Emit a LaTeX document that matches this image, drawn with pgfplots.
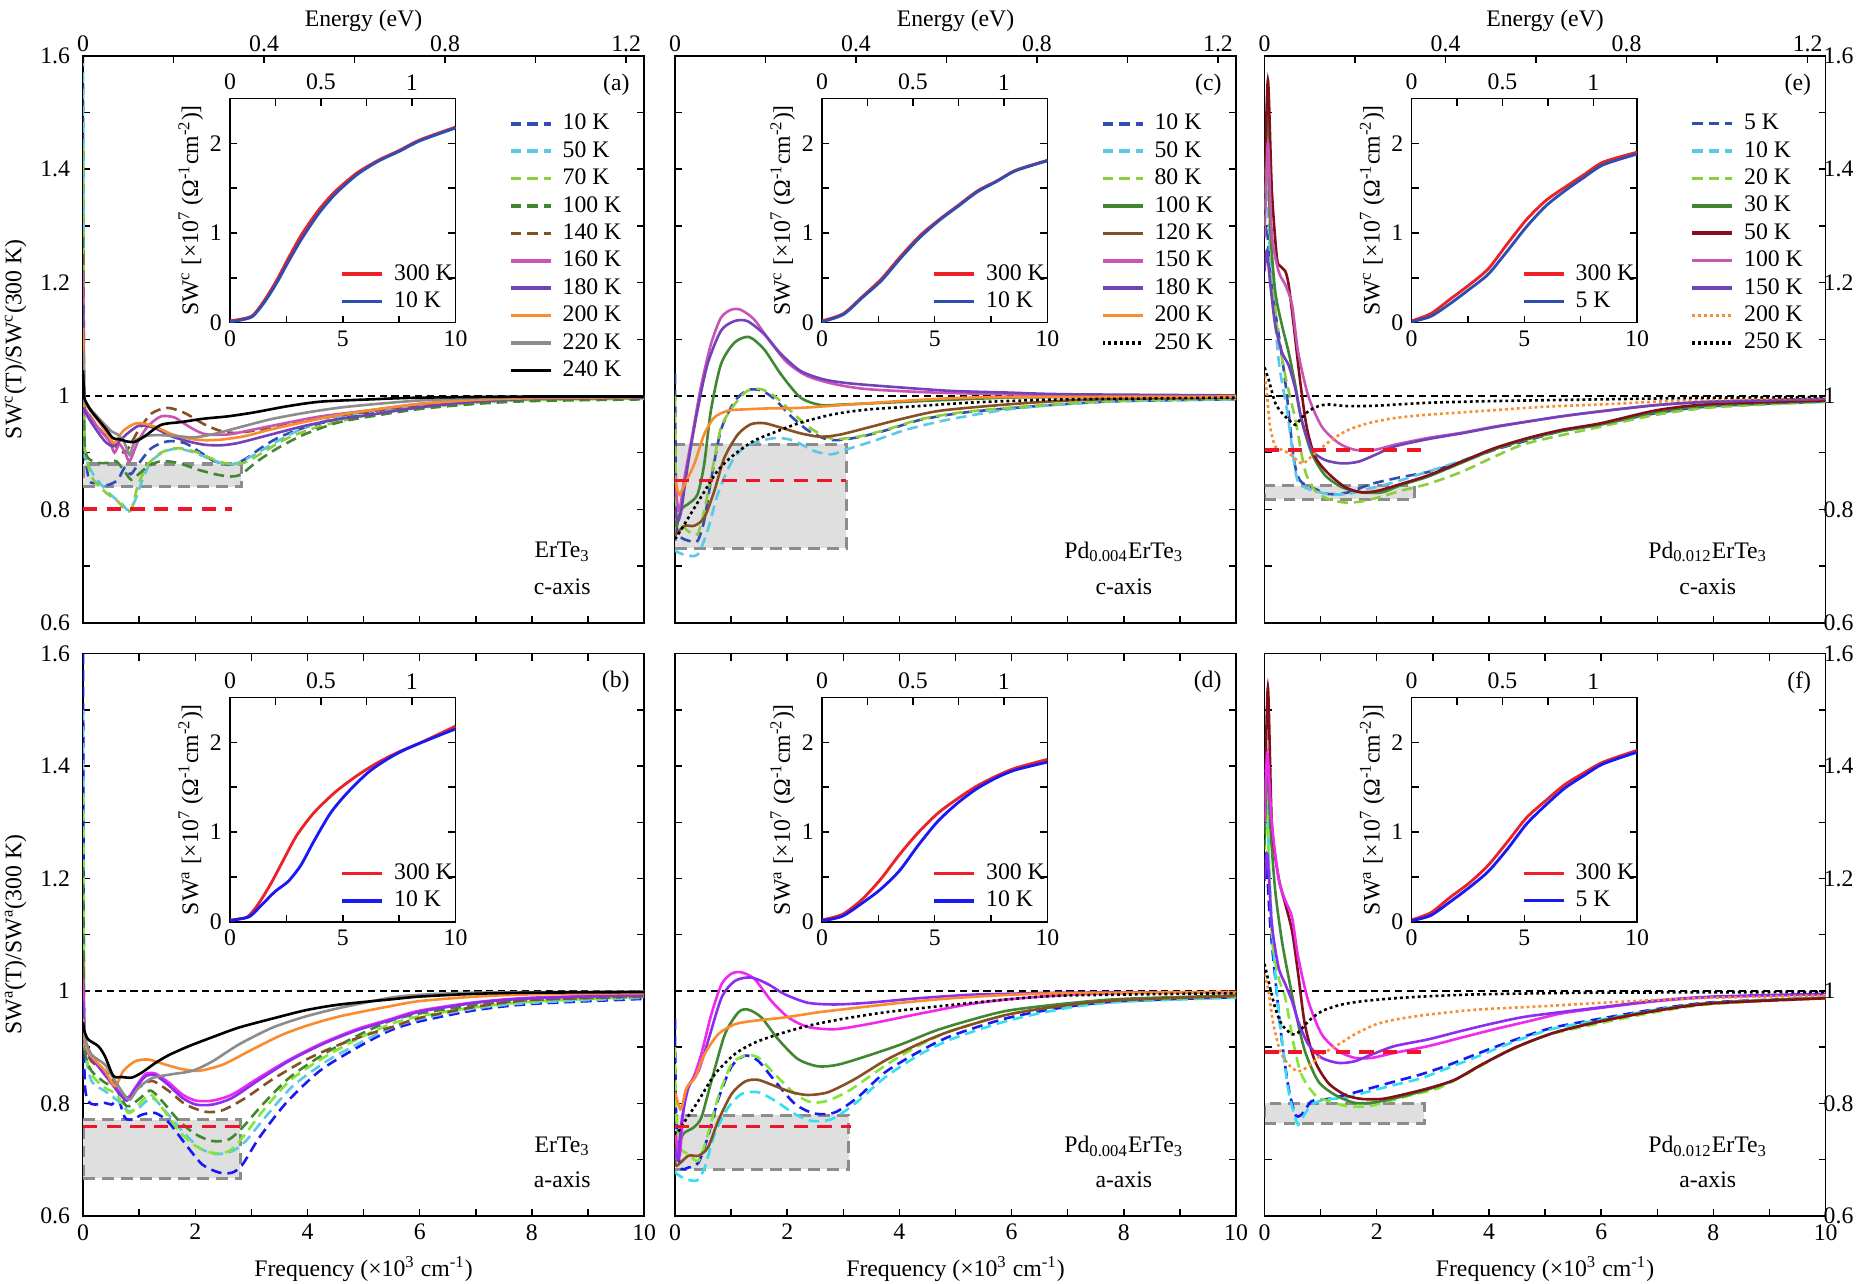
\documentclass[border=0pt]{standalone}
\usepackage{fontspec}
\setmainfont{Liberation Serif}
\usepackage{pgfplots}
\pgfplotsset{compat=1.18}
\definecolor{cB}{RGB}{46,78,178}
\definecolor{aB}{RGB}{25,25,245}
\definecolor{cC}{RGB}{90,200,230}
\definecolor{aC}{RGB}{50,222,240}
\definecolor{cY}{RGB}{140,205,60}
\definecolor{aY}{RGB}{130,230,50}
\definecolor{gG}{RGB}{65,135,50}
\definecolor{bR}{RGB}{135,80,35}
\definecolor{cM}{RGB}{200,85,180}
\definecolor{aM}{RGB}{240,40,240}
\definecolor{cP}{RGB}{115,65,185}
\definecolor{aP}{RGB}{140,45,240}
\definecolor{oR}{RGB}{250,140,45}
\definecolor{gY}{RGB}{140,140,140}
\definecolor{dR}{RGB}{130,15,25}
\definecolor{iR}{RGB}{235,35,40}
\definecolor{rectF}{RGB}{223,223,223}
\definecolor{rectD}{RGB}{140,140,140}
\definecolor{redL}{RGB}{240,20,40}
\newcommand{\tfont}{\fontsize{10}{12}\selectfont}
\pgfplotsset{
  /pgf/number format/assume math mode=true,
  cv/.style={smooth, tension=0.45, line width=1.1pt},
  dsh/.style={dash pattern=on 4.5pt off 2.5pt},
  dtt/.style={dash pattern=on 1.2pt off 1.3pt},
  baseax/.style={anchor=south west, scale only axis,
    major tick length=3pt, minor tick length=3pt,
    axis line style={line width=0.7pt},
    every tick/.style={black, line width=0.6pt},
    tick label style={font=\tfont}, label style={font=\tfont},
    legend image code/.code={\draw[##1, line width=1.5pt] (0pt,0pt) -- (17pt,0pt);},
    legend style={draw=none, fill=none, font=\tfont, inner xsep=0pt, inner ysep=0pt,
      nodes={inner sep=1.7pt, text depth=0.15em}, cells={anchor=west},
      /tikz/every odd column/.append style={column sep=2.5pt}}},
  mainax/.style={baseax, width=236.5pt, xmin=0, xmax=10, ymin=0.6, ymax=1.6,
    xtick={0,2,4,6,8,10}, minor xtick={1,3,5,7,9},
    ytick={0.6,0.8,1,1.2,1.4,1.6}, minor ytick={0.7,0.9,1.1,1.3,1.5}, ytick pos=both,
    ylabel shift=-1pt, yticklabel style={xshift=-2pt},
    legend style={at={(0.758,0.905)}, anchor=north west}},
  rightlab/.style={yticklabel pos=right, yticklabel style={xshift=0pt, inner xsep=1pt}},
  toprow/.style={height=239pt, xtick pos=left, xticklabels={}},
  botrow/.style={height=237pt, xlabel={Frequency (×10\textsuperscript{3} cm\textsuperscript{-1})}},
  energyax/.style={baseax, width=236.5pt, height=239pt, xmin=0, xmax=1.23984, ymin=0, ymax=1,
    axis x line*=top, axis y line=none, x axis line style={-},
    xtick={0,0.4,0.8,1.2}, minor xtick={0.2,0.6,1.0},
    xticklabel style={yshift=-2pt},
    xlabel={Energy (eV)}, xlabel style={yshift=-5pt}},
  insetax/.style={baseax, width=95pt, height=94.5pt, xmin=0, xmax=10, ymin=0, ymax=2.5,
    xtick={0,5,10}, minor xtick={2.5,7.5}, ytick={0,1,2}, minor ytick={0.5,1.5},
    xtick pos=left, ytick pos=both, ylabel shift=-4pt,
    legend style={at={(0.487,0.279)}, anchor=north west}},
  insetE/.style={baseax, width=95pt, height=94.5pt, xmin=0, xmax=1.23984, ymin=0, ymax=1,
    axis x line*=top, axis y line=none, x axis line style={-},
    xtick={0,0.5,1}, minor xtick={0.25,0.75}},
  rectst/.style={draw=rectD, fill=rectF, line width=1.3pt, dash pattern=on 5pt off 3pt, forget plot, sharp plot},
  redst/.style={redL, line width=1.6pt, dash pattern=on 6pt off 4pt, forget plot, sharp plot},
  onest/.style={black, line width=0.6pt, dash pattern=on 3pt off 2pt, forget plot, sharp plot},
}
\begin{document}
\tfont
\begin{tikzpicture}
\useasboundingbox (0,0) rectangle (784pt,541pt);
%================ (a)
\begin{axis}[mainax, toprow, at={(35pt,278.5pt)},
  ylabel={SW\textsuperscript{c}(T)/SW\textsuperscript{c}(300 K)}]
\addplot[rectst] coordinates {(0,0.84)(2.82,0.84)(2.82,0.88)(0,0.88)} -- cycle;
\addplot[onest] coordinates {(0,1)(10,1)};
\addplot[cv,dsh,cB] coordinates {(0,1.55)(0.02,0.95)(0.06,0.88)(0.12,0.849)(0.27,0.846)(0.44,0.843)(0.62,0.852)(0.74,0.873)(0.85,0.862)(0.98,0.879)(1.22,0.908)(1.51,0.92)(1.81,0.917)(2.1,0.9)(2.34,0.885)(2.64,0.879)(2.88,0.888)(3.17,0.908)(3.47,0.926)(3.94,0.944)(4.54,0.959)(5.13,0.969)(6,0.98)(7,0.989)(8,0.993)(10,0.996)};
\addlegendentry{10 K}
\addplot[cv,dsh,cC] coordinates {(0,1.6)(0.02,0.95)(0.05,0.896)(0.15,0.867)(0.33,0.843)(0.5,0.825)(0.68,0.811)(0.8,0.799)(0.92,0.814)(1.07,0.855)(1.22,0.885)(1.45,0.902)(1.69,0.907)(1.99,0.9)(2.28,0.888)(2.58,0.879)(2.76,0.882)(3.05,0.896)(3.35,0.914)(3.94,0.944)(4.54,0.962)(5.13,0.973)(6,0.982)(7,0.99)(8,0.994)(10,0.996)};
\addlegendentry{50 K}
\addplot[cv,dsh,cY] coordinates {(0,1.44)(0.02,0.95)(0.05,0.9)(0.15,0.858)(0.39,0.831)(0.62,0.814)(0.74,0.8)(0.86,0.799)(0.98,0.843)(1.16,0.879)(1.39,0.9)(1.69,0.908)(2.05,0.9)(2.4,0.885)(2.7,0.879)(2.94,0.885)(3.23,0.902)(3.65,0.926)(4.24,0.947)(5.13,0.967)(6,0.979)(7,0.988)(8,0.993)(10,0.995)};
\addlegendentry{70 K}
\addplot[cv,dsh,gG] coordinates {(0,1.28)(0.02,0.95)(0.05,0.9)(0.12,0.888)(0.27,0.882)(0.44,0.882)(0.59,0.885)(0.74,0.867)(0.86,0.852)(0.98,0.861)(1.16,0.876)(1.39,0.885)(1.69,0.882)(2.05,0.87)(2.4,0.861)(2.64,0.858)(2.82,0.862)(3.11,0.885)(3.47,0.908)(3.94,0.932)(4.54,0.953)(5.13,0.964)(6,0.977)(7,0.986)(8,0.991)(10,0.994)};
\addlegendentry{100 K}
\addplot[cv,dsh,bR] coordinates {(0,1.25)(0.02,0.99)(0.06,0.975)(0.27,0.944)(0.5,0.92)(0.74,0.9)(0.98,0.938)(1.22,0.969)(1.51,0.979)(1.81,0.97)(2.16,0.95)(2.46,0.938)(2.76,0.935)(3.35,0.944)(3.94,0.956)(4.54,0.965)(5.13,0.973)(6,0.984)(7,0.991)(8,0.995)(10,0.997)};
\addlegendentry{140 K}
\addplot[cv,cM] coordinates {(0,1.22)(0.02,0.99)(0.05,0.975)(0.27,0.944)(0.47,0.92)(0.56,0.9)(0.65,0.915)(0.75,0.9)(0.83,0.885)(0.98,0.92)(1.16,0.947)(1.39,0.964)(1.63,0.962)(1.87,0.947)(2.16,0.933)(2.58,0.932)(3.05,0.941)(3.65,0.953)(4.24,0.964)(5.13,0.975)(6,0.986)(7,0.993)(8,0.996)(10,0.998)};
\addlegendentry{160 K}
\addplot[cv,cP] coordinates {(0,1.16)(0.02,0.99)(0.05,0.97)(0.21,0.944)(0.39,0.92)(0.53,0.911)(0.62,0.917)(0.77,0.932)(0.98,0.947)(1.16,0.947)(1.33,0.941)(1.57,0.929)(1.87,0.92)(2.16,0.914)(2.46,0.913)(2.76,0.917)(3.35,0.932)(3.94,0.947)(4.54,0.959)(5.13,0.967)(6,0.98)(7,0.99)(8,0.995)(10,0.997)};
\addlegendentry{180 K}
\addplot[cv,oR] coordinates {(0,1.12)(0.02,0.99)(0.05,0.985)(0.27,0.956)(0.44,0.932)(0.56,0.917)(0.71,0.938)(0.92,0.951)(1.1,0.951)(1.33,0.944)(1.57,0.933)(1.87,0.925)(2.16,0.922)(2.46,0.923)(2.88,0.929)(3.35,0.941)(3.94,0.954)(4.54,0.966)(5.13,0.975)(6,0.986)(7,0.993)(8,0.996)(10,0.998)};
\addlegendentry{200 K}
\addplot[cv,gY] coordinates {(0,1.08)(0.02,0.995)(0.06,0.985)(0.27,0.962)(0.5,0.938)(0.62,0.932)(0.74,0.917)(0.83,0.896)(0.92,0.92)(1.1,0.929)(1.33,0.931)(1.69,0.929)(1.99,0.927)(2.34,0.933)(2.76,0.944)(3.35,0.959)(3.94,0.97)(4.54,0.979)(5.13,0.985)(6,0.992)(7,0.996)(8,0.998)(10,0.999)};
\addlegendentry{220 K}
\addplot[cv,black] coordinates {(0,1.045)(0.02,1.0)(0.05,0.99)(0.15,0.973)(0.39,0.944)(0.53,0.926)(0.68,0.923)(0.77,0.92)(0.92,0.919)(1.1,0.929)(1.39,0.949)(1.75,0.954)(2.16,0.96)(2.58,0.964)(3.05,0.971)(3.65,0.982)(4.24,0.99)(5.13,0.994)(6,0.997)(8,0.999)(10,0.999)};
\addlegendentry{240 K}
\addplot[redst] coordinates {(0,0.80)(2.65,0.80)};
\node[anchor=east] at (rel axis cs:0.989,0.949) {(a)};
\node at (rel axis cs:0.854,0.125) {ErTe\textsubscript{3}};
\node at (rel axis cs:0.854,0.063) {c-axis};
\end{axis}
\begin{axis}[energyax, at={(35pt,278.5pt)}]\end{axis}
\begin{axis}[insetax, at={(97pt,405pt)},
  ylabel={SW\textsuperscript{c} [×10\textsuperscript{7} (Ω\textsuperscript{-1}cm\textsuperscript{-2})]}]
\addplot[cv,iR,line width=1.2pt] coordinates {(0,0.02)(0.5,0.04)(1,0.08)(1.5,0.24)(2.06,0.47)(2.63,0.74)(3.19,0.99)(3.94,1.26)(4.69,1.47)(5.63,1.67)(6.57,1.81)(7.5,1.92)(8.44,2.04)(10,2.18)};
\addlegendentry{300 K}
\addplot[cv,cB,line width=1.2pt] coordinates {(0,0.01)(0.5,0.03)(1,0.07)(1.5,0.22)(2.06,0.44)(2.63,0.70)(3.19,0.94)(3.94,1.22)(4.69,1.44)(5.63,1.65)(6.57,1.80)(7.5,1.91)(8.44,2.03)(10,2.17)};
\addlegendentry{10 K}
\end{axis}
\begin{axis}[insetE, at={(97pt,405pt)}]\end{axis}
%================ (b)
\begin{axis}[mainax, botrow, at={(35pt,28.5pt)},
  ylabel={SW\textsuperscript{a}(T)/SW\textsuperscript{a}(300 K)}]
\addplot[rectst] coordinates {(0,0.667)(2.8,0.667)(2.8,0.771)(0,0.771)} -- cycle;
\addplot[onest] coordinates {(0,1)(10,1)};
\addplot[cv,dsh,aB] coordinates {(0,1.6)(0.015,1.0)(0.03,0.84)(0.09,0.804)(0.21,0.798)(0.39,0.801)(0.51,0.798)(0.63,0.807)(0.75,0.774)(0.9,0.772)(1.05,0.78)(1.29,0.783)(1.53,0.766)(1.83,0.727)(2.13,0.691)(2.43,0.677)(2.66,0.677)(2.84,0.691)(3.14,0.739)(3.62,0.801)(4.22,0.858)(4.88,0.899)(5.48,0.93)(6,0.946)(7,0.966)(8,0.977)(10,0.986)};
\addplot[cv,dsh,cC] coordinates {(0,1.5)(0.015,1.0)(0.03,0.9)(0.15,0.84)(0.39,0.822)(0.63,0.804)(0.81,0.786)(0.99,0.792)(1.23,0.81)(1.47,0.786)(1.77,0.751)(2.07,0.721)(2.37,0.71)(2.66,0.715)(2.9,0.733)(3.26,0.777)(3.74,0.831)(4.34,0.875)(4.94,0.908)(5.48,0.934)(6,0.95)(7,0.969)(8,0.979)(10,0.988)};
\addplot[cv,dsh,aY] coordinates {(0,1.35)(0.015,1.0)(0.03,0.9)(0.15,0.852)(0.39,0.828)(0.6,0.816)(0.81,0.783)(0.99,0.798)(1.2,0.816)(1.41,0.792)(1.71,0.751)(2.01,0.724)(2.31,0.712)(2.6,0.715)(2.84,0.739)(3.2,0.786)(3.68,0.84)(4.28,0.881)(4.88,0.914)(5.48,0.941)(6,0.955)(7,0.971)(8,0.981)(10,0.99)};
\addplot[cv,dsh,gG] coordinates {(0,1.22)(0.015,0.98)(0.04,0.89)(0.15,0.858)(0.39,0.837)(0.57,0.828)(0.78,0.795)(0.99,0.807)(1.2,0.823)(1.41,0.804)(1.71,0.769)(2.01,0.745)(2.31,0.733)(2.6,0.736)(2.84,0.757)(3.2,0.798)(3.68,0.846)(4.28,0.887)(4.88,0.92)(5.48,0.947)(6,0.96)(7,0.975)(8,0.984)(10,0.99)};
\addplot[cv,dsh,bR] coordinates {(0,1.06)(0.015,0.95)(0.05,0.9)(0.15,0.875)(0.39,0.858)(0.63,0.83)(0.78,0.81)(0.99,0.828)(1.23,0.84)(1.53,0.822)(1.83,0.798)(2.19,0.785)(2.49,0.788)(2.9,0.81)(3.38,0.843)(3.98,0.878)(4.58,0.905)(5.18,0.926)(5.54,0.937)(6,0.952)(7,0.972)(8,0.984)(10,0.991)};
\addplot[cv,aM] coordinates {(0,1.02)(0.015,0.95)(0.06,0.9)(0.27,0.869)(0.45,0.846)(0.63,0.822)(0.78,0.807)(0.93,0.828)(1.11,0.852)(1.29,0.853)(1.53,0.837)(1.77,0.816)(2.01,0.805)(2.31,0.805)(2.66,0.816)(3.14,0.846)(3.68,0.878)(4.28,0.908)(4.88,0.932)(5.48,0.95)(6,0.965)(7,0.98)(8,0.988)(10,0.993)};
\addplot[cv,aP] coordinates {(0,0.98)(0.015,0.93)(0.06,0.895)(0.27,0.866)(0.45,0.843)(0.63,0.82)(0.78,0.805)(0.93,0.826)(1.11,0.848)(1.29,0.85)(1.53,0.832)(1.77,0.81)(2.01,0.798)(2.31,0.798)(2.66,0.81)(3.14,0.842)(3.68,0.876)(4.28,0.906)(4.88,0.93)(5.48,0.948)(6,0.963)(7,0.979)(8,0.987)(10,0.993)};
\addplot[cv,oR] coordinates {(0,0.95)(0.015,0.92)(0.1,0.89)(0.39,0.858)(0.57,0.831)(0.72,0.858)(0.93,0.875)(1.17,0.878)(1.47,0.869)(1.77,0.861)(2.07,0.858)(2.49,0.869)(2.96,0.893)(3.5,0.92)(3.98,0.938)(4.58,0.955)(5.48,0.973)(6,0.982)(7,0.99)(8,0.994)(10,0.996)};
\addplot[cv,gY] coordinates {(0,0.94)(0.02,0.92)(0.15,0.887)(0.39,0.869)(0.57,0.84)(0.75,0.813)(0.84,0.807)(0.99,0.828)(1.23,0.845)(1.59,0.852)(1.95,0.858)(2.31,0.875)(2.78,0.905)(3.38,0.935)(3.98,0.955)(4.58,0.97)(5.48,0.988)(6,0.993)(7,0.997)(10,0.999)};
\addplot[cv,black] coordinates {(0,0.945)(0.02,0.93)(0.09,0.914)(0.27,0.902)(0.39,0.884)(0.54,0.849)(0.69,0.847)(0.87,0.846)(1.05,0.855)(1.29,0.872)(1.53,0.886)(1.89,0.902)(2.31,0.918)(2.78,0.935)(3.38,0.951)(3.98,0.966)(4.58,0.976)(5.48,0.985)(6,0.99)(7,0.995)(8,0.997)(10,0.998)};
\addplot[redst] coordinates {(0,0.759)(2.8,0.759)};
\node[anchor=east] at (rel axis cs:0.989,0.949) {(b)};
\node at (rel axis cs:0.854,0.124) {ErTe\textsubscript{3}};
\node at (rel axis cs:0.854,0.065) {a-axis};
\end{axis}
\begin{axis}[insetax, at={(97pt,152.5pt)},
  ylabel={SW\textsuperscript{a} [×10\textsuperscript{7} (Ω\textsuperscript{-1}cm\textsuperscript{-2})]}]
\addplot[cv,iR,line width=1.2pt] coordinates {(0,0.02)(0.4,0.03)(0.8,0.06)(1.26,0.2)(1.82,0.43)(2.39,0.7)(2.95,0.96)(3.7,1.21)(4.64,1.44)(5.58,1.62)(6.52,1.77)(7.46,1.89)(8.4,1.99)(10,2.18)};
\addlegendentry{300 K}
\addplot[cv,aB,line width=1.2pt] coordinates {(0,0.01)(0.4,0.03)(0.88,0.06)(1.45,0.2)(2.01,0.34)(2.58,0.45)(3.14,0.63)(3.7,0.89)(4.45,1.21)(5.21,1.44)(6.15,1.67)(7.09,1.83)(8.03,1.95)(10,2.15)};
\addlegendentry{10 K}
\end{axis}
\begin{axis}[insetE, at={(97pt,152.5pt)}]\end{axis}
%================ (c)
\begin{axis}[mainax, toprow, at={(284.5pt,278.5pt)}, yticklabels={}]
\addplot[rectst] coordinates {(0,0.731)(3.05,0.731)(3.05,0.915)(0,0.915)} -- cycle;
\addplot[onest] coordinates {(0,1)(10,1)};
\addplot[cv,dsh,cB] coordinates {(0,1.04)(0.015,0.85)(0.04,0.76)(0.11,0.75)(0.23,0.745)(0.4,0.744)(0.52,0.78)(0.64,0.85)(0.82,0.94)(1.06,0.99)(1.29,1.01)(1.53,1.01)(1.77,0.995)(2.06,0.965)(2.36,0.94)(2.66,0.925)(2.89,0.922)(3.31,0.928)(3.78,0.94)(4.38,0.958)(5.09,0.97)(5.92,0.978)(7,0.986)(8,0.991)(10,0.994)};
\addlegendentry{10 K}
\addplot[cv,dsh,cC] coordinates {(0,0.73)(0.02,0.726)(0.17,0.72)(0.4,0.72)(0.58,0.762)(0.76,0.826)(1.0,0.882)(1.23,0.909)(1.53,0.921)(1.83,0.926)(2.12,0.921)(2.48,0.903)(2.78,0.897)(3.07,0.906)(3.55,0.921)(4.14,0.941)(4.91,0.959)(5.92,0.976)(7,0.986)(8,0.991)(10,0.994)};
\addlegendentry{50 K}
\addplot[cv,dsh,cY] coordinates {(0,1.0)(0.015,0.85)(0.04,0.78)(0.11,0.774)(0.23,0.762)(0.4,0.756)(0.52,0.797)(0.64,0.856)(0.82,0.944)(1.06,0.985)(1.29,1.009)(1.53,1.012)(1.77,1.0)(2.06,0.974)(2.36,0.947)(2.66,0.929)(2.89,0.924)(3.31,0.929)(3.78,0.941)(4.38,0.959)(5.09,0.971)(5.92,0.979)(7,0.987)(8,0.992)(10,0.995)};
\addlegendentry{80 K}
\addplot[cv,gG] coordinates {(0,0.78)(0.03,0.77)(0.11,0.80)(0.23,0.809)(0.4,0.826)(0.52,0.879)(0.64,0.974)(0.82,1.056)(1.06,1.094)(1.32,1.104)(1.59,1.082)(1.89,1.038)(2.24,0.997)(2.6,0.984)(3.01,0.985)(3.72,0.988)(4.61,0.992)(5.92,0.997)(7,0.998)(10,0.999)};
\addlegendentry{100 K}
\addplot[cv,bR] coordinates {(0,0.76)(0.02,0.756)(0.17,0.771)(0.34,0.771)(0.52,0.785)(0.7,0.832)(0.88,0.891)(1.12,0.932)(1.35,0.95)(1.59,0.952)(1.89,0.944)(2.24,0.934)(2.6,0.928)(2.95,0.932)(3.43,0.944)(4.02,0.959)(4.73,0.974)(5.92,0.985)(7,0.992)(8,0.995)(10,0.997)};
\addlegendentry{120 K}
\addplot[cv,cM] coordinates {(0,0.86)(0.03,0.82)(0.08,0.797)(0.17,0.856)(0.31,0.932)(0.46,1.015)(0.64,1.091)(0.82,1.138)(1.0,1.152)(1.17,1.152)(1.41,1.135)(1.71,1.094)(2.0,1.059)(2.36,1.035)(2.84,1.021)(3.43,1.012)(4.61,1.006)(5.92,1.003)(7,1.001)(10,1.0)};
\addlegendentry{150 K}
\addplot[cv,cP] coordinates {(0,0.80)(0.05,0.78)(0.11,0.797)(0.23,0.879)(0.4,0.974)(0.58,1.056)(0.82,1.115)(1.06,1.132)(1.29,1.132)(1.59,1.109)(1.89,1.074)(2.24,1.044)(2.66,1.029)(3.13,1.022)(4.02,1.015)(4.91,1.009)(5.92,1.006)(7,1.003)(10,1.001)};
\addlegendentry{180 K}
\addplot[cv,oR] coordinates {(0,0.86)(0.03,0.84)(0.08,0.826)(0.17,0.844)(0.34,0.879)(0.52,0.932)(0.7,0.962)(0.94,0.974)(1.17,0.976)(1.65,0.978)(2.24,0.979)(3.13,0.985)(4.02,0.991)(4.91,0.996)(5.92,0.998)(10,0.999)};
\addlegendentry{200 K}
\addplot[cv,dtt,black] coordinates {(0,0.75)(0.02,0.75)(0.17,0.774)(0.46,0.821)(0.76,0.868)(1.06,0.897)(1.41,0.921)(1.83,0.938)(2.24,0.953)(2.84,0.968)(3.43,0.976)(4.32,0.982)(5.21,0.988)(5.92,0.991)(7,0.994)(10,0.997)};
\addlegendentry{250 K}
\addplot[redst] coordinates {(0,0.851)(3.05,0.851)};
\node[anchor=east] at (rel axis cs:0.989,0.949) {(c)};
\node at (rel axis cs:0.80,0.125) {Pd\textsubscript{0.004}ErTe\textsubscript{3}};
\node at (rel axis cs:0.80,0.063) {c-axis};
\end{axis}
\begin{axis}[energyax, at={(284.5pt,278.5pt)}]\end{axis}
\begin{axis}[insetax, at={(346.5pt,405pt)},
  ylabel={SW\textsuperscript{c} [×10\textsuperscript{7} (Ω\textsuperscript{-1}cm\textsuperscript{-2})]}]
\addplot[cv,iR,line width=1.2pt] coordinates {(0,0.02)(0.94,0.1)(1.79,0.29)(2.64,0.49)(3.49,0.74)(4.34,0.97)(5.2,1.15)(6.05,1.31)(6.9,1.47)(7.75,1.58)(8.6,1.7)(10,1.81)};
\addlegendentry{300 K}
\addplot[cv,cB,line width=1.2pt] coordinates {(0,0.01)(0.94,0.09)(1.79,0.28)(2.64,0.47)(3.49,0.72)(4.34,0.95)(5.2,1.14)(6.05,1.30)(6.9,1.46)(7.75,1.575)(8.6,1.695)(10,1.805)};
\addlegendentry{10 K}
\end{axis}
\begin{axis}[insetE, at={(346.5pt,405pt)}]\end{axis}
%================ (d)
\begin{axis}[mainax, botrow, at={(284.5pt,28.5pt)}, yticklabels={}]
\addplot[rectst] coordinates {(0,0.683)(3.1,0.683)(3.1,0.779)(0,0.779)} -- cycle;
\addplot[onest] coordinates {(0,1)(10,1)};
\addplot[cv,dsh,aB] coordinates {(0,0.95)(0.02,0.78)(0.09,0.689)(0.24,0.686)(0.42,0.695)(0.59,0.742)(0.77,0.807)(1.01,0.866)(1.25,0.885)(1.48,0.876)(1.78,0.84)(2.14,0.799)(2.49,0.782)(2.85,0.784)(3.26,0.811)(3.74,0.855)(4.33,0.891)(4.92,0.92)(5.93,0.952)(7,0.972)(8,0.982)(10,0.989)};
\addplot[cv,dsh,aC] coordinates {(0,0.68)(0.03,0.675)(0.18,0.666)(0.39,0.663)(0.53,0.686)(0.71,0.746)(0.95,0.793)(1.19,0.817)(1.48,0.82)(1.78,0.805)(2.14,0.781)(2.43,0.769)(2.79,0.772)(3.2,0.799)(3.74,0.846)(4.33,0.885)(4.92,0.914)(5.93,0.947)(7,0.97)(8,0.981)(10,0.988)};
\addplot[cv,dsh,aY] coordinates {(0,0.90)(0.02,0.78)(0.09,0.722)(0.24,0.71)(0.42,0.698)(0.59,0.746)(0.77,0.811)(1.01,0.87)(1.25,0.885)(1.48,0.882)(1.78,0.852)(2.14,0.817)(2.43,0.802)(2.73,0.805)(3.14,0.825)(3.74,0.867)(4.33,0.902)(4.92,0.929)(5.93,0.958)(7,0.975)(8,0.984)(10,0.99)};
\addplot[cv,gG] coordinates {(0,0.73)(0.03,0.716)(0.15,0.746)(0.33,0.757)(0.47,0.775)(0.65,0.84)(0.89,0.923)(1.13,0.962)(1.3,0.967)(1.54,0.953)(1.84,0.914)(2.19,0.879)(2.55,0.866)(2.91,0.869)(3.44,0.885)(4.03,0.905)(4.63,0.929)(5.22,0.947)(5.93,0.965)(7,0.978)(8,0.986)(10,0.992)};
\addplot[cv,bR] coordinates {(0,0.70)(0.03,0.689)(0.24,0.707)(0.42,0.707)(0.59,0.722)(0.77,0.769)(1.01,0.817)(1.25,0.839)(1.48,0.842)(1.78,0.831)(2.08,0.82)(2.37,0.815)(2.73,0.82)(3.2,0.843)(3.74,0.876)(4.33,0.905)(4.92,0.929)(5.93,0.958)(7,0.975)(8,0.984)(10,0.991)};
\addplot[cv,aM] coordinates {(0,0.75)(0.05,0.72)(0.09,0.71)(0.18,0.817)(0.33,0.846)(0.47,0.888)(0.65,0.959)(0.83,1.012)(1.01,1.031)(1.19,1.033)(1.42,1.021)(1.72,0.982)(2.02,0.953)(2.37,0.936)(2.85,0.932)(3.44,0.941)(4.33,0.959)(5.22,0.976)(5.93,0.985)(7,0.993)(8,0.996)(10,0.998)};
\addplot[cv,aP] coordinates {(0,0.72)(0.06,0.70)(0.12,0.769)(0.24,0.828)(0.42,0.858)(0.59,0.911)(0.83,0.988)(1.07,1.018)(1.36,1.024)(1.66,1.012)(1.96,0.994)(2.37,0.979)(2.85,0.976)(3.44,0.979)(4.33,0.987)(5.22,0.993)(5.93,0.995)(7,0.997)(10,0.998)};
\addplot[cv,oR] coordinates {(0,0.82)(0.06,0.799)(0.11,0.79)(0.21,0.828)(0.36,0.846)(0.53,0.888)(0.77,0.923)(1.07,0.941)(1.42,0.947)(1.96,0.953)(2.55,0.962)(3.14,0.969)(4.03,0.979)(4.92,0.987)(5.93,0.993)(7,0.996)(10,0.998)};
\addplot[cv,dtt,black] coordinates {(0,0.75)(0.03,0.746)(0.18,0.769)(0.42,0.805)(0.71,0.852)(1.07,0.888)(1.42,0.908)(1.84,0.923)(2.37,0.938)(2.97,0.95)(3.74,0.962)(4.63,0.972)(5.93,0.985)(7,0.992)(10,0.996)};
\addplot[redst] coordinates {(0,0.759)(3.13,0.759)};
\node[anchor=east] at (rel axis cs:0.989,0.949) {(d)};
\node at (rel axis cs:0.80,0.124) {Pd\textsubscript{0.004}ErTe\textsubscript{3}};
\node at (rel axis cs:0.80,0.065) {a-axis};
\end{axis}
\begin{axis}[insetax, at={(346.5pt,152.5pt)},
  ylabel={SW\textsuperscript{a} [×10\textsuperscript{7} (Ω\textsuperscript{-1}cm\textsuperscript{-2})]}]
\addplot[cv,iR,line width=1.2pt] coordinates {(0,0.02)(0.89,0.08)(1.74,0.24)(2.59,0.47)(3.44,0.75)(4.29,1.0)(5.14,1.21)(6.0,1.37)(6.85,1.51)(7.7,1.62)(8.55,1.71)(10,1.81)};
\addlegendentry{300 K}
\addplot[cv,aB,line width=1.2pt] coordinates {(0,0.01)(0.89,0.06)(1.74,0.2)(2.59,0.36)(3.44,0.57)(4.29,0.86)(5.14,1.12)(6.0,1.32)(6.85,1.48)(7.7,1.6)(8.55,1.69)(10,1.78)};
\addlegendentry{10 K}
\end{axis}
\begin{axis}[insetE, at={(346.5pt,152.5pt)}]\end{axis}
%================ (e)
\begin{axis}[mainax, toprow, rightlab, at={(533pt,278.5pt)}]
\addplot[rectst] coordinates {(0,0.818)(2.68,0.818)(2.68,0.842)(0,0.842)} -- cycle;
\addplot[onest] coordinates {(0,1)(10,1)};
\addplot[cv,dsh,cB] coordinates {(0,1.28)(0.04,1.30)(0.1,1.22)(0.19,1.15)(0.31,1.07)(0.4,1.0)(0.52,0.89)(0.63,0.851)(0.84,0.839)(1.14,0.827)(1.49,0.83)(1.91,0.845)(2.44,0.857)(2.92,0.866)(3.51,0.884)(4.1,0.905)(4.7,0.922)(5.29,0.938)(6.0,0.95)(7,0.97)(8,0.982)(10,0.99)};
\addlegendentry{5 K}
\addplot[cv,dsh,cC] coordinates {(0,1.3)(0.04,1.375)(0.1,1.25)(0.25,1.065)(0.4,0.976)(0.52,0.887)(0.6,0.848)(0.78,0.836)(1.14,0.827)(1.49,0.827)(1.85,0.836)(2.32,0.848)(2.8,0.863)(3.27,0.878)(3.81,0.896)(4.4,0.917)(5.29,0.938)(6.0,0.949)(7,0.969)(8,0.981)(10,0.99)};
\addlegendentry{10 K}
\addplot[cv,dsh,cY] coordinates {(0,1.3)(0.04,1.42)(0.13,1.244)(0.22,1.125)(0.37,1.036)(0.55,0.958)(0.72,0.869)(0.9,0.833)(1.14,0.818)(1.44,0.812)(1.73,0.814)(2.03,0.821)(2.44,0.833)(2.92,0.845)(3.51,0.866)(4.1,0.893)(4.7,0.917)(6.0,0.946)(7,0.967)(8,0.98)(10,0.99)};
\addlegendentry{20 K}
\addplot[cv,gG] coordinates {(0,1.3)(0.05,1.494)(0.1,1.30)(0.19,1.185)(0.31,1.125)(0.43,1.077)(0.55,1.018)(0.66,0.958)(0.84,0.899)(1.08,0.86)(1.38,0.839)(1.73,0.83)(2.09,0.83)(2.44,0.843)(2.92,0.858)(3.51,0.882)(4.1,0.906)(4.7,0.924)(5.29,0.938)(6.0,0.95)(7,0.972)(8,0.984)(10,0.991)};
\addlegendentry{30 K}
\addplot[cv,dR] coordinates {(0,1.36)(0.06,1.557)(0.13,1.363)(0.22,1.244)(0.28,1.229)(0.37,1.22)(0.43,1.196)(0.52,1.125)(0.63,1.03)(0.75,0.946)(0.9,0.893)(1.14,0.863)(1.44,0.839)(1.73,0.83)(2.03,0.833)(2.44,0.845)(2.92,0.86)(3.51,0.884)(4.1,0.908)(4.7,0.926)(5.29,0.94)(6.0,0.952)(7,0.975)(8,0.986)(10,0.992)};
\addlegendentry{50 K}
\addplot[cv,cM] coordinates {(0,1.28)(0.06,1.446)(0.13,1.286)(0.25,1.22)(0.37,1.196)(0.49,1.161)(0.6,1.077)(0.78,1.0)(1.02,0.946)(1.32,0.917)(1.61,0.905)(1.97,0.905)(2.32,0.914)(2.92,0.926)(3.51,0.935)(4.1,0.946)(4.7,0.955)(5.29,0.964)(6.0,0.973)(7,0.984)(8,0.99)(10,0.995)};
\addlegendentry{100 K}
\addplot[cv,cP] coordinates {(0,1.22)(0.04,1.256)(0.1,1.2)(0.19,1.125)(0.31,1.077)(0.43,1.054)(0.55,1.012)(0.66,0.958)(0.84,0.905)(1.08,0.887)(1.38,0.881)(1.67,0.884)(1.97,0.896)(2.32,0.911)(2.92,0.924)(3.51,0.934)(4.1,0.945)(4.7,0.955)(5.29,0.964)(6.0,0.973)(7,0.984)(8,0.99)(10,0.995)};
\addlegendentry{150 K}
\addplot[cv,dtt,oR] coordinates {(0,1.036)(0.04,1.006)(0.1,0.946)(0.19,0.911)(0.31,0.905)(0.43,0.899)(0.58,0.887)(0.69,0.881)(0.9,0.899)(1.2,0.923)(1.49,0.94)(1.85,0.952)(2.32,0.961)(2.92,0.967)(3.81,0.973)(4.99,0.981)(6.0,0.985)(7,0.99)(8,0.994)(10,0.997)};
\addlegendentry{200 K}
\addplot[cv,dtt,black] coordinates {(0,1.05)(0.07,1.03)(0.19,0.988)(0.31,0.97)(0.43,0.958)(0.55,0.949)(0.63,0.958)(0.78,0.973)(0.96,0.982)(1.14,0.985)(1.49,0.982)(2.03,0.983)(2.92,0.988)(4.1,0.991)(6.0,0.994)(8,0.997)(10,0.998)};
\addlegendentry{250 K}
\addplot[redst] coordinates {(0,0.904)(2.84,0.904)};
\node[anchor=east] at (rel axis cs:0.989,0.949) {(e)};
\node at (rel axis cs:0.79,0.125) {Pd\textsubscript{0.012}ErTe\textsubscript{3}};
\node at (rel axis cs:0.79,0.063) {c-axis};
\end{axis}
\begin{axis}[energyax, at={(533pt,278.5pt)}]\end{axis}
\begin{axis}[insetax, at={(595pt,405pt)},
  ylabel={SW\textsuperscript{c} [×10\textsuperscript{7} (Ω\textsuperscript{-1}cm\textsuperscript{-2})]}]
\addplot[cv,iR,line width=1.2pt] coordinates {(0,0.02)(0.85,0.1)(1.7,0.26)(2.55,0.42)(3.4,0.6)(4.25,0.88)(5.1,1.15)(5.95,1.36)(6.8,1.51)(7.65,1.65)(8.5,1.79)(10,1.9)};
\addlegendentry{300 K}
\addplot[cv,cB,line width=1.2pt] coordinates {(0,0.01)(0.85,0.07)(1.7,0.21)(2.55,0.37)(3.4,0.54)(4.25,0.8)(5.1,1.07)(5.95,1.3)(6.8,1.47)(7.65,1.62)(8.5,1.76)(10,1.88)};
\addlegendentry{5 K}
\end{axis}
\begin{axis}[insetE, at={(595pt,405pt)}]\end{axis}
%================ (f)
\begin{axis}[mainax, botrow, rightlab, at={(533pt,28.5pt)}]
\addplot[rectst] coordinates {(0,0.765)(2.85,0.765)(2.85,0.80)(0,0.80)} -- cycle;
\addplot[onest] coordinates {(0,1)(10,1)};
\addplot[cv,dsh,aB] coordinates {(0,1.2)(0.03,1.238)(0.1,1.12)(0.19,1.024)(0.31,0.911)(0.43,0.827)(0.55,0.78)(0.66,0.78)(0.84,0.804)(1.08,0.807)(1.44,0.815)(1.85,0.826)(2.32,0.839)(2.8,0.852)(3.27,0.868)(3.81,0.889)(4.4,0.911)(5.11,0.934)(6.0,0.951)(7,0.968)(8,0.98)(10,0.988)};
\addplot[cv,dsh,aC] coordinates {(0,1.3)(0.03,1.39)(0.1,1.179)(0.19,1.03)(0.31,0.911)(0.43,0.821)(0.55,0.774)(0.6,0.762)(0.69,0.777)(0.84,0.798)(1.08,0.807)(1.44,0.81)(1.85,0.821)(2.32,0.833)(2.8,0.845)(3.27,0.863)(3.81,0.884)(4.4,0.908)(5.11,0.932)(6.0,0.949)(7,0.967)(8,0.979)(10,0.988)};
\addplot[cv,dsh,aY] coordinates {(0,1.25)(0.03,1.357)(0.13,1.1)(0.25,1.024)(0.37,0.988)(0.52,0.905)(0.66,0.851)(0.9,0.815)(1.14,0.804)(1.49,0.795)(1.85,0.795)(2.21,0.804)(2.62,0.815)(3.1,0.827)(3.63,0.854)(4.22,0.887)(4.99,0.92)(6.0,0.943)(7,0.963)(8,0.977)(10,0.987)};
\addplot[cv,gG] coordinates {(0,1.26)(0.05,1.42)(0.1,1.3)(0.19,1.179)(0.31,1.089)(0.43,1.024)(0.55,0.964)(0.72,0.893)(0.96,0.839)(1.26,0.815)(1.61,0.801)(1.97,0.802)(2.44,0.812)(2.92,0.825)(3.39,0.842)(3.87,0.869)(4.46,0.899)(5.17,0.926)(6.0,0.947)(7,0.966)(8,0.979)(10,0.988)};
\addplot[cv,dR] coordinates {(0,1.3)(0.06,1.54)(0.13,1.298)(0.25,1.202)(0.37,1.155)(0.49,1.107)(0.6,1.03)(0.72,0.94)(0.9,0.875)(1.14,0.836)(1.44,0.815)(1.73,0.808)(2.09,0.808)(2.44,0.815)(2.92,0.827)(3.39,0.842)(3.87,0.869)(4.46,0.899)(5.17,0.926)(6.0,0.946)(7,0.965)(8,0.978)(10,0.987)};
\addplot[cv,aM] coordinates {(0,1.3)(0.05,1.423)(0.13,1.298)(0.25,1.2)(0.37,1.161)(0.49,1.131)(0.6,1.06)(0.78,0.982)(1.02,0.923)(1.32,0.893)(1.61,0.881)(1.91,0.881)(2.32,0.89)(2.92,0.902)(3.51,0.917)(4.1,0.932)(4.7,0.946)(5.29,0.96)(6.0,0.97)(7,0.982)(8,0.989)(10,0.994)};
\addplot[cv,aP] coordinates {(0,1.196)(0.05,1.244)(0.13,1.119)(0.25,1.042)(0.37,1.012)(0.49,0.982)(0.6,0.946)(0.78,0.905)(1.02,0.881)(1.32,0.872)(1.61,0.875)(1.91,0.887)(2.32,0.902)(2.92,0.914)(3.51,0.929)(4.1,0.943)(4.7,0.955)(6.0,0.971)(7,0.983)(8,0.99)(10,0.995)};
\addplot[cv,dtt,oR] coordinates {(0,1.03)(0.07,1.0)(0.16,0.94)(0.28,0.893)(0.43,0.869)(0.6,0.857)(0.78,0.866)(1.02,0.887)(1.32,0.905)(1.61,0.923)(1.97,0.94)(2.32,0.949)(2.92,0.958)(3.81,0.967)(4.99,0.973)(6.0,0.979)(7,0.984)(8,0.988)(10,0.992)};
\addplot[cv,dtt,black] coordinates {(0,1.048)(0.07,1.018)(0.19,0.97)(0.31,0.94)(0.49,0.923)(0.6,0.926)(0.78,0.946)(1.02,0.964)(1.38,0.976)(1.85,0.983)(2.62,0.989)(3.81,0.994)(6.0,0.997)(10,0.998)};
\addplot[redst] coordinates {(0,0.892)(2.9,0.892)};
\node[anchor=east] at (rel axis cs:0.989,0.949) {(f)};
\node at (rel axis cs:0.79,0.124) {Pd\textsubscript{0.012}ErTe\textsubscript{3}};
\node at (rel axis cs:0.79,0.065) {a-axis};
\end{axis}
\begin{axis}[insetax, at={(595pt,152.5pt)},
  ylabel={SW\textsuperscript{a} [×10\textsuperscript{7} (Ω\textsuperscript{-1}cm\textsuperscript{-2})]}]
\addplot[cv,iR,line width=1.2pt] coordinates {(0,0.02)(0.85,0.1)(1.7,0.27)(2.55,0.43)(3.4,0.63)(4.25,0.89)(5.1,1.16)(5.95,1.35)(6.8,1.53)(7.65,1.66)(8.5,1.78)(10,1.91)};
\addlegendentry{300 K}
\addplot[cv,aB,line width=1.2pt] coordinates {(0,0.01)(0.85,0.07)(1.7,0.22)(2.55,0.38)(3.4,0.56)(4.25,0.81)(5.1,1.09)(5.95,1.3)(6.8,1.49)(7.65,1.63)(8.5,1.76)(10,1.89)};
\addlegendentry{5 K}
\end{axis}
\begin{axis}[insetE, at={(595pt,152.5pt)}]\end{axis}
\end{tikzpicture}
\end{document}
